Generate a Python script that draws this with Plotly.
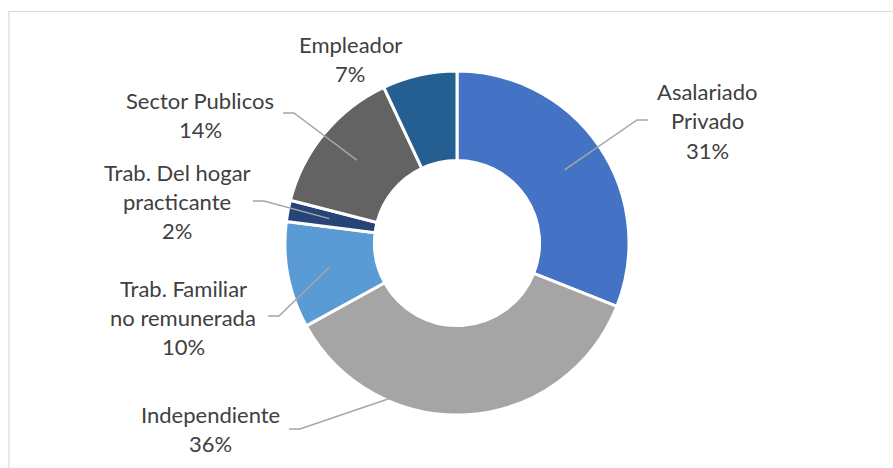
import math
import plotly.graph_objects as go

W, H = 893, 468

# Categorías de ocupación y su participación (%)
categorias = [
    "Asalariado Privado",
    "Independiente",
    "Trab. Familiar no remunerada",
    "Trab. Del hogar practicante",
    "Sector Publicos",
    "Empleador",
]
valores = [31, 36, 10, 2, 14, 7]
colores = ["#4472C4", "#A5A5A5", "#5B9BD5", "#264478", "#636363", "#255E91"]

# Texto de cada etiqueta, línea por línea
lineas_etiqueta = [
    ["Asalariado", "Privado", "31%"],
    ["Independiente", "36%"],
    ["Trab. Familiar", "no remunerada", "10%"],
    ["Trab. Del hogar", "practicante", "2%"],
    ["Sector Publicos", "14%"],
    ["Empleador", "7%"],
]

# Geometría del anillo (px)
cx, cy, R = 457, 243, 172
hueco = 0.48

# Posición de cada etiqueta (centro del bloque, px) y extremo de su línea guía
pos_etiqueta = [(707, 121), (210, 429), (183, 317), (177, 201), (200, 115), (350, 59)]
inicio_guia = [(648, 120), (289, 429), (268, 316), (253, 201), (283, 113), None]
codo = 11  # tramo horizontal de la línea guía
interlineado = 29
color_texto = "#404040"
fuente = "Lato"
tam = 22


def px2paper(x, y):
    return x / W, 1 - y / H


fig = go.Figure(
    go.Pie(
        labels=categorias,
        values=valores,
        hole=hueco,
        sort=False,
        direction="clockwise",
        rotation=0,
        marker=dict(colors=colores, line=dict(color="white", width=3)),
        textinfo="none",
        hoverinfo="label+percent",
        domain=dict(
            x=[(cx - R) / W, (cx + R) / W],
            y=[1 - (cy + R) / H, 1 - (cy - R) / H],
        ),
        showlegend=False,
    )
)

anotaciones = []
formas = []

# Marco del área del gráfico
formas.append(dict(type="rect", xref="paper", yref="paper",
                   x0=9 / W, x1=1.05, y0=-0.05, y1=1 - 11.5 / H,
                   line=dict(color="#D9D9D9", width=1.2), fillcolor="rgba(0,0,0,0)",
                   layer="below"))

total = sum(valores)
acum = 0
r_medio = 130
for i, v in enumerate(valores):
    medio = (acum + v / 2) / total * 2 * math.pi
    acum += v
    # Etiquetas
    lx, ly = pos_etiqueta[i]
    n = len(lineas_etiqueta[i])
    for k, texto in enumerate(lineas_etiqueta[i]):
        yy = ly + (k - (n - 1) / 2) * interlineado
        x, y = px2paper(lx, yy)
        anotaciones.append(dict(text=texto, x=x, y=y, xref="paper", yref="paper",
                                xanchor="center", yanchor="middle", showarrow=False,
                                font=dict(family=fuente, size=tam, color=color_texto)))
    # Líneas guía hacia el centro del sector
    if inicio_guia[i] is not None:
        gx, gy = inicio_guia[i]
        signo = 1 if gx < cx else -1
        ex = cx + r_medio * math.sin(medio)
        ey = cy - r_medio * math.cos(medio)
        pts = [(gx, gy), (gx + signo * codo, gy), (ex, ey)]
        path = "M " + " L ".join(
            f"{px2paper(a, b)[0]:.5f},{px2paper(a, b)[1]:.5f}" for a, b in pts)
        formas.append(dict(type="path", xref="paper", yref="paper", path=path,
                           line=dict(color="#A6A6A6", width=1.5)))

fig.update_layout(
    width=W, height=H,
    margin=dict(l=0, r=0, t=0, b=0),
    paper_bgcolor="white",
    plot_bgcolor="white",
    annotations=anotaciones,
    shapes=formas,
)

fig.write_html("out.html")
